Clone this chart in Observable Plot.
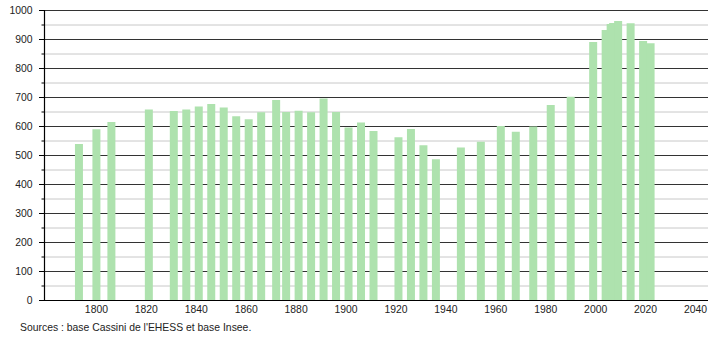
<!DOCTYPE html>
<html>
<head>
<meta charset="utf-8">
<script src="https://cdn.jsdelivr.net/npm/d3@7"></script>
<script src="https://cdn.jsdelivr.net/npm/@observablehq/plot@0.6"></script>
<style>
  html, body { margin: 0; padding: 0; background: #fff; }
  #chart svg { display: block; }
  #caption { font: 10.4px "Liberation Sans", Arial, sans-serif; color: #222; margin: 3px 0 0 20px; line-height: 14px; }
</style>
</head>
<body>
<div id="chart"></div>
<div id="caption">Sources : base Cassini de l'EHESS et base Insee.</div>
<script>
const years = [1793, 1800, 1806, 1821, 1831, 1836, 1841, 1846, 1851, 1856, 1861, 1866, 1872, 1876, 1881, 1886, 1891, 1896, 1901, 1906, 1911, 1921, 1926, 1931, 1936, 1946, 1954, 1962, 1968, 1975, 1982, 1990, 1999, 2004, 2006, 2007, 2009, 2014, 2019, 2022];
const population = [538, 589, 614, 657, 652, 657, 667, 676, 664, 634, 623, 647, 690, 648, 653, 647, 695, 648, 595, 612, 583, 561, 590, 534, 485, 526, 546, 600, 580, 598, 672, 701, 890, 931, 952, 955, 962, 954, 893, 885];
const majorTicks = [0, 100, 200, 300, 400, 500, 600, 700, 800, 900, 1000];
const minorTicks = [50, 150, 250, 350, 450, 550, 650, 750, 850, 950];
const xTicks = [1800, 1820, 1840, 1860, 1880, 1900, 1920, 1940, 1960, 1980, 2000, 2020, 2040];

const data = years.map((y, i) => ({year: y, pop: population[i]}));

const chart = Plot.plot({
  width: 710,
  height: 318,
  marginLeft: 44,
  marginRight: 2,
  marginTop: 10,
  marginBottom: 18,
  style: {fontFamily: "'Liberation Sans', Arial, sans-serif", fontSize: "10.4px", color: "#222", background: "#fff"},
  x: {domain: [1779.2, 2045.2]},
  y: {domain: [0, 1000]},
  marks: [
    Plot.ruleY(minorTicks, {stroke: "#c8c8c8", strokeWidth: 1}),
    Plot.ruleY(majorTicks, {stroke: "#333", strokeWidth: 1}),
    Plot.ruleX(data, {x: "year", y1: 0, y2: "pop", stroke: "#aee2ae", strokeWidth: 8}),
    Plot.ruleY([0], {stroke: "#000", strokeWidth: 1.2}),
    Plot.axisY(majorTicks, {tickSize: 5, tickPadding: 7, stroke: "#000", tickFormat: d => String(d), label: null}),
    Plot.axisY(minorTicks, {tickSize: 2.5, text: null, stroke: "#000", label: null}),
    Plot.ruleX([1779.2], {stroke: "#000", strokeWidth: 1.2}),
    Plot.axisX(xTicks, {tickSize: 0, tickPadding: 5, tickFormat: d => String(d), label: null})
  ]
});
document.getElementById("chart").appendChild(chart);
</script>
</body>
</html>
